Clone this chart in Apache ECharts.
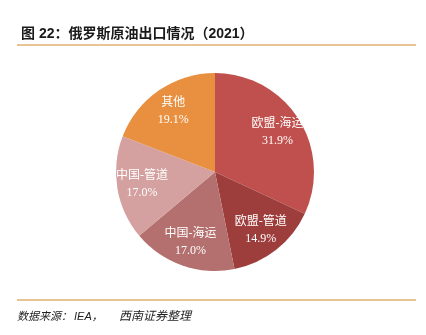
<!DOCTYPE html>
<html>
<head>
<meta charset="utf-8">
<script src="https://cdn.jsdelivr.net/npm/echarts@6/dist/echarts.min.js"></script>
<style>
  html, body { margin: 0; padding: 0; background: #fff; }
  #chart { width: 426px; height: 335px; }
</style>
</head>
<body>
<div id="chart"></div>
<script>
// Russian crude oil exports by destination and route, 2021 (%)
const categories = ['欧盟-海运', '欧盟-管道', '中国-海运', '中国-管道', '其他'];
const shares = [31.9, 14.9, 17.0, 17.0, 19.1];
const colors = ['#C0504D', '#9E3E3C', '#B3706E', '#D4A0A0', '#E8903F'];

const titleText = '图 22：俄罗斯原油出口情况（2021）';
const sourceParts = ['数据来源：', 'IEA，', '西南证券整理'];

const center = [215, 172];
const chart = echarts.init(document.getElementById('chart'));

const sliceData = categories.map((name, i) => ({
  name, value: shares[i], itemStyle: { color: colors[i] }
}));

const footFont = 'italic 11px Liberation Sans, Noto Sans CJK SC';

chart.setOption({
  animation: false,
  backgroundColor: '#ffffff',
  title: {
    text: titleText,
    left: 16, top: 22,
    textStyle: { fontSize: 14, fontWeight: 'bold', color: '#1a1a1a',
      fontFamily: 'Liberation Sans, Noto Sans CJK SC' }
  },
  graphic: [
    { type: 'line', shape: { x1: 17, y1: 45, x2: 416, y2: 45 },
      style: { stroke: '#E0B070', lineWidth: 1.5 } },
    { type: 'line', shape: { x1: 17, y1: 300, x2: 416, y2: 300 },
      style: { stroke: '#E0B070', lineWidth: 1.5 } },
    { type: 'text', left: 17, top: 311,
      style: { text: sourceParts[0], fill: '#222', font: footFont } },
    { type: 'text', left: 74, top: 311,
      style: { text: sourceParts[1], fill: '#222', font: footFont } },
    { type: 'text', left: 119, top: 310.5,
      style: { text: sourceParts[2], fill: '#222',
        font: 'italic 12px Liberation Sans, Noto Sans CJK SC' } }
  ],
  series: [
    {
      type: 'pie',
      center, radius: [0, 99],
      startAngle: 90, clockwise: true,
      silent: true,
      label: { show: false }, labelLine: { show: false },
      data: sliceData
    },
    {
      // label ring: transparent slices whose mid-radius sets the label position
      type: 'pie',
      center, radius: [0, 142],
      startAngle: 90, clockwise: true,
      silent: true,
      itemStyle: { color: 'rgba(0,0,0,0)' },
      label: {
        show: true, position: 'inside',
        formatter: p => p.name + '\n' + shares[p.dataIndex].toFixed(1) + '%',
        color: '#ffffff', fontSize: 12, lineHeight: 17,
        fontFamily: 'Liberation Serif, Noto Sans CJK SC'
      },
      labelLine: { show: false },
      data: categories.map((name, i) => ({ name, value: shares[i] }))
    }
  ]
});
</script>
</body>
</html>
